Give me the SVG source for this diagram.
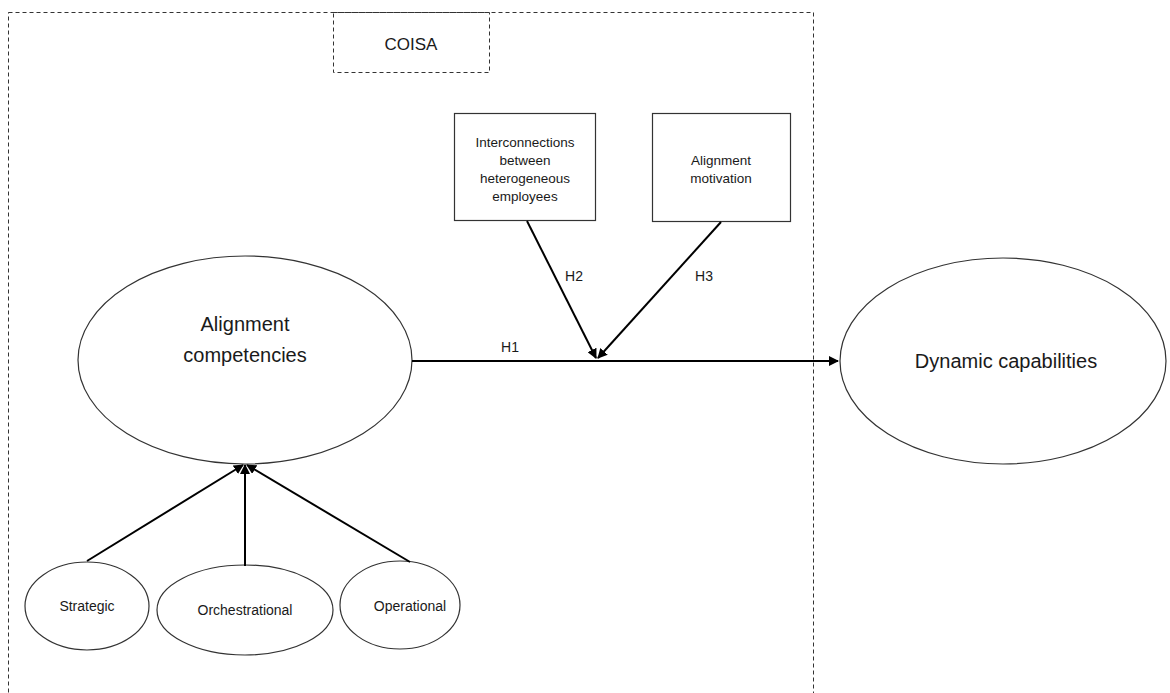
<svg xmlns="http://www.w3.org/2000/svg" width="1170" height="693" viewBox="0 0 1170 693">
  <style>
    text { font-family: "Liberation Sans", Arial, sans-serif; fill: #1a1a1a; text-anchor: middle; }
    .frame { fill: none; stroke: #333; stroke-width: 1; stroke-dasharray: 4 3; }
    .node { fill: #fff; stroke: #333; stroke-width: 1.2; }
    .edge { stroke: #000; stroke-width: 2; fill: none; marker-end: url(#arrow); }
    .big { font-size: 20px; }
    .small { font-size: 13.5px; }
    .lab { font-size: 14px; }
  </style>
  <defs>
    <marker id="arrow" viewBox="0 0 10 10" refX="9" refY="5" markerWidth="5" markerHeight="5" orient="auto" markerUnits="strokeWidth">
      <path d="M0,0 L10,5 L0,10 z" fill="#000"/>
    </marker>
  </defs>
  <rect width="1170" height="693" fill="#fff"/>

  <!-- dashed boundary and title -->
  <g id="coisa-boundary">
    <rect class="frame" x="8.5" y="12.5" width="805" height="690"/>
  </g>
  <g id="coisa-title">
    <rect class="frame" x="333.5" y="12.5" width="156" height="60"/>
    <text x="411" y="50" font-size="17">COISA</text>
  </g>

  <!-- nodes -->
  <g id="interconnections">
    <rect class="node" x="454.5" y="113.5" width="141" height="107"/>
    <text class="small" x="525" y="147">Interconnections</text>
    <text class="small" x="525" y="165">between</text>
    <text class="small" x="525" y="183">heterogeneous</text>
    <text class="small" x="525" y="201">employees</text>
  </g>
  <g id="alignment-motivation">
    <rect class="node" x="652.5" y="113.5" width="138" height="108"/>
    <text class="small" x="721" y="165">Alignment</text>
    <text class="small" x="721" y="183">motivation</text>
  </g>
  <g id="alignment-competencies">
    <ellipse class="node" cx="245" cy="360" rx="167" ry="104"/>
    <text class="big" x="245" y="331">Alignment</text>
    <text class="big" x="245" y="362">competencies</text>
  </g>
  <g id="dynamic-capabilities">
    <ellipse class="node" cx="1003" cy="361" rx="163" ry="103"/>
    <text class="big" x="1006" y="368" font-size="21">Dynamic capabilities</text>
  </g>
  <g id="strategic">
    <ellipse class="node" cx="87" cy="606" rx="62" ry="44"/>
    <text class="lab" x="87" y="611">Strategic</text>
  </g>
  <g id="orchestrational">
    <ellipse class="node" cx="245" cy="610" rx="88" ry="45"/>
    <text class="lab" x="245" y="615">Orchestrational</text>
  </g>
  <g id="operational">
    <ellipse class="node" cx="400" cy="605" rx="60" ry="44"/>
    <text class="lab" x="410" y="611">Operational</text>
  </g>

  <!-- connectors -->
  <g id="connectors">
    <line class="edge" x1="412" y1="361" x2="838" y2="361"/>
    <line class="edge" x1="527" y1="221" x2="596" y2="358"/>
    <line class="edge" x1="721" y1="222" x2="598" y2="358"/>
    <line class="edge" x1="87" y1="561" x2="243" y2="465"/>
    <line class="edge" x1="245" y1="566" x2="245" y2="465"/>
    <line class="edge" x1="410" y1="562" x2="247" y2="465"/>
    <text class="lab" x="510" y="352">H1</text>
    <text class="lab" x="574" y="281">H2</text>
    <text class="lab" x="704" y="281">H3</text>
  </g>
</svg>
